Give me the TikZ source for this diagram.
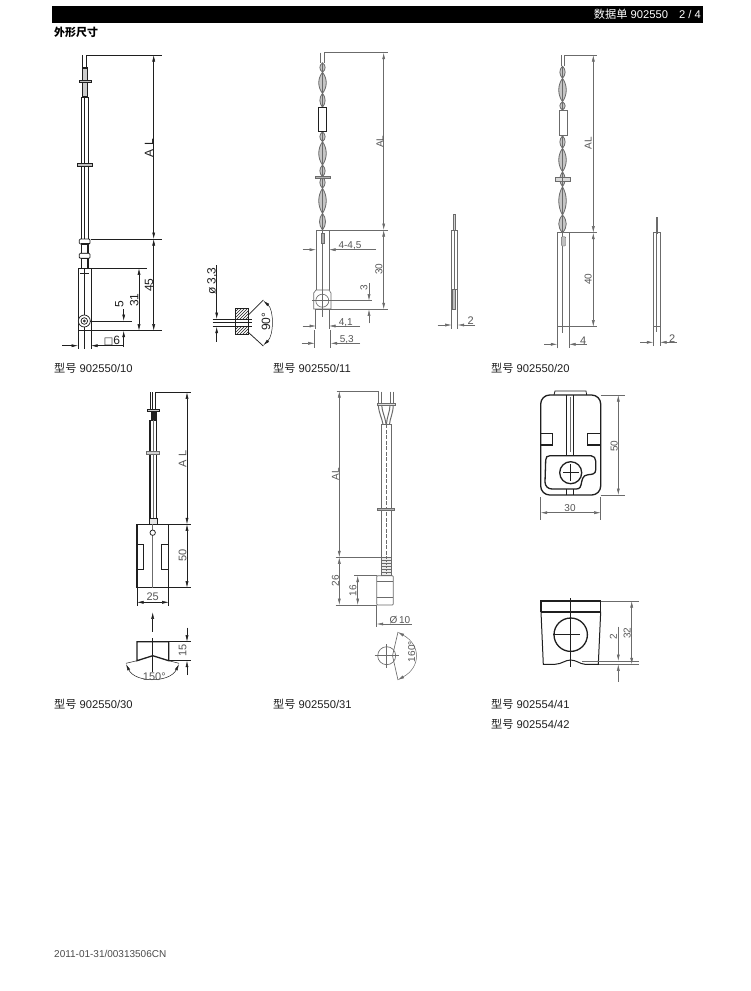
\documentclass[tikz,border=0pt]{standalone}
\usepackage{fontspec}
\setmainfont{Liberation Sans}
\newfontfamily\cjk{Noto Sans CJK SC}
\newfontfamily\dvu{DejaVu Sans}
\usetikzlibrary{arrows.meta,patterns}
\definecolor{ink}{gray}{0.12}
\definecolor{soft}{gray}{0.42}
\tikzset{
 ln/.style={draw=ink,line width=0.75pt},
 thick ln/.style={draw=ink,line width=1.3pt},
 lg/.style={draw=soft,line width=0.65pt},
 dm/.style={draw=ink,line width=0.5pt},
 dg/.style={draw=soft,line width=0.5pt},
 ar/.style={<->},
 ar1/.style={->},
 tw/.style={draw=soft,line width=0.8pt,fill=gray!45},
 dt/.style={font=\fontsize{12}{12}\selectfont,text=ink,inner sep=0pt},
 dts/.style={font=\fontsize{10}{10}\selectfont,text=soft!80!black,inner sep=0pt},
 dtm/.style={font=\fontsize{11}{11}\selectfont,text=soft!80!black,inner sep=0pt},
 lbl/.style={font=\fontsize{11.2}{12}\selectfont,text=ink,anchor=west,inner sep=0pt},
}
\newcommand\twistseg[4]{%
 \draw[tw] (#1,#2) .. controls ({#1-#4},{#2+(#3-#2)*.3}) and ({#1-#4},{#2+(#3-#2)*.7}) .. (#1,#3)
   .. controls ({#1+#4},{#2+(#3-#2)*.7}) and ({#1+#4},{#2+(#3-#2)*.3}) .. (#1,#2);
 \draw[soft,line width=1.1pt] (#1,#2)--(#1,#3);}
\begin{document}
\begin{tikzpicture}[x=1pt,y=-1pt,>={Latex[length=6.5pt,width=3pt]}]
\useasboundingbox (0,0) rectangle (750,991);
\fill[white] (0,0) rectangle (750,991);
% header
\fill[black] (52,6) rectangle (703,23);
\node[anchor=east,text=white,inner sep=0pt,font=\fontsize{11.2}{12}\selectfont] (head) at (701,14.5) {{\cjk 数据单} 902550\hspace{11pt}2 / 4};
\node[anchor=west,inner sep=0pt,font=\fontsize{11}{12}\selectfont\bfseries] (title) at (54,32.5) {\cjk\bfseries 外形尺寸};
\node[lbl] (c1) at (54,368) {{\cjk 型号} 902550/10};
\node[lbl] (c2) at (273,368) {{\cjk 型号} 902550/11};
\node[lbl] (c3) at (491,368) {{\cjk 型号} 902550/20};
\node[lbl] (c4) at (54,704) {{\cjk 型号} 902550/30};
\node[lbl] (c5) at (273,704) {{\cjk 型号} 902550/31};
\node[lbl] (c6) at (491,704) {{\cjk 型号} 902554/41};
\node[lbl] (c7) at (491,724) {{\cjk 型号} 902554/42};
\node[anchor=west,inner sep=0pt,text=soft!70!black,font=\fontsize{10}{12}\selectfont] (foot) at (54,954) {2011-01-31/00313506CN};

%%% Drawing 1
\draw[ln] (82.3,55)--(82.3,68) (86.7,55)--(86.7,68);
\draw[thick ln,fill=gray!40] (82.3,68) rectangle (87.7,97);
\draw[ln,fill=gray!50] (79.3,80) rectangle (91,82.5);
\draw[ln] (81.7,97) rectangle (88.3,240);
\draw[ln] (84.7,97)--(84.7,240);
\draw[ln,fill=gray!50] (77.3,163.5) rectangle (92,166);
\draw[ln,fill=white,rounded corners=1pt] (79.3,239) rectangle (90,244);
\draw[thick ln] (81.7,244) rectangle (88,253.3);
\draw[ln,fill=white,rounded corners=1pt] (79.3,253.3) rectangle (90,258.3);
\draw[thick ln] (81.7,258.3) rectangle (88,268.3);
\draw[ln] (78,268.3) rectangle (91,330.7);
\draw[ln] (80,273)--(89,273);
\draw[ln] (84.7,268)--(84.7,349);
\draw[ln] (78,330.7)--(78,349) (91,330.7)--(91,349);
\draw[ln,fill=white] (84.3,321) circle (6);
\draw[ln] (84.3,321) circle (3.3);
\draw[ln] (84.3,321) circle (1);
\draw[dm] (86.7,55)--(162,55);
\draw[dm] (91,239)--(162,239);
\draw[dm] (91,268.3)--(146.7,268.3);
\draw[dm] (91,330.7)--(162,330.7);
\draw[dm] (90,321)--(132.3,321);
\draw[dm,ar] (153.7,55)--(153.7,239);
\draw[dm,ar] (153.7,239)--(153.7,330.7);
\draw[dm,ar] (139,268.3)--(139,330.7);
\draw[dm,ar1] (123.7,309)--(123.7,321);
\draw[dm,ar1] (123.7,347)--(123.7,330.7);
\draw[dm,ar1] (62.3,345.7)--(78,345.7);
\draw[dm,ar1] (123.7,345.7)--(91,345.7);
\node[dt,rotate=90] (t1a) at (149,148) {A L};
\node[dt,rotate=90] (t1b) at (149,285) {45};
\node[dt,rotate=90] (t1c) at (134.3,300) {31};
\node[dt,rotate=90] (t1d) at (119.3,304) {5};
\node[dt,anchor=center] (t1e) at (112,341) {{\dvu\fontsize{10}{10}\selectfont □}6};
% section
\draw[ln,pattern=north east lines,pattern color=ink] (235.3,308.3) rectangle (248.3,334);
\draw[ln,fill=white] (235.3,319) rectangle (248.3,326.7);
\draw[dm] (212.7,319)--(251.7,319) (212.7,326.7)--(251.7,326.7) (212.7,322.7)--(252,322.7);
\draw[dm] (216.7,265)--(216.7,308);
\draw[dm,ar1] (216.7,308)--(216.7,319);
\draw[dm,ar1] (216.7,341.7)--(216.7,326.7);
\draw[ln] (248.3,315)--(263.3,300) (248.3,332.3)--(263.3,346);
\draw[dm,ar] (263.3,300.7) .. controls (274,310) and (274,335) .. (263.3,345.3);
\node[dt,rotate=90] (t1f) at (212.3,281) {ø 3,3};
\node[dt,rotate=90] (t1g) at (266,321.7) {90°};

%%% Drawing 2
\draw[lg] (320.7,52.7)--(320.7,62.7) (324.3,52.7)--(324.3,62.7);
\twistseg{322.5}{62.7}{72.3}{3.5}\twistseg{322.5}{72.3}{93.3}{5}\twistseg{322.5}{93.3}{107.3}{3.5}
\twistseg{322.5}{131.7}{141.7}{3.5}\twistseg{322.5}{141.7}{165}{5}\twistseg{322.5}{165}{176.7}{3.5}
\twistseg{322.5}{176.7}{188.3}{3.5}\twistseg{322.5}{188.3}{213.3}{5}\twistseg{322.5}{213.3}{230}{4}
\draw[ln,fill=white] (318.3,107.3) rectangle (326.7,131.7);
\draw[draw=soft,fill=gray!60] (315,175.7) rectangle (330,177.7);
\draw[lg] (316,230)--(329,230)--(329,290) (316,230)--(316,290);
\draw[lg,fill=white] (316,290)--(313.7,293)--(313.7,309)--(331,309)--(331,293)--(329,290)--cycle;
\draw[lg] (315,309)--(315,329) (329.5,309)--(329.5,329);
\draw[lg] (322.3,230)--(322.3,317);
\draw[draw=soft,fill=gray!65] (320.7,233.3) rectangle (324,242.7);
\draw[lg] (322.3,300.7) circle (6.5);
\draw[dg] (324.3,52.7)--(388.3,52.7);
\draw[dg] (329,230)--(388.3,230);
\draw[dg] (315,309.3)--(388.3,309.3);
\draw[dg] (312,300.7)--(372.3,300.7);
\draw[dg,ar] (383.7,52.7)--(383.7,230);
\draw[dg,ar] (383.7,230)--(383.7,309.3);
\draw[dg,ar1] (302.7,249.7)--(316,249.7);
\draw[dg,ar1] (376,249.7)--(329,249.7);
\draw[dg] (369,283.3)--(369,290);
\draw[dg,ar1] (369,290)--(369,300.7);
\draw[dg,ar1] (369,323.3)--(369,309.3);
\draw[dg,ar1] (302.7,326)--(316,326);
\draw[dg,ar1] (360,326)--(329,326);
\draw[dg] (314.7,330)--(314.7,348) (330.7,330)--(330.7,348);
\draw[dg,ar1] (301.7,343.3)--(314.7,343.3);
\draw[dg,ar1] (360,343.3)--(330.7,343.3);
\node[dts,rotate=90] (t2a) at (380,141.7) {AL};
\node[dts,rotate=90] (t2b) at (379,269.3) {30};
\node[dts,rotate=90] (t2c) at (364,287.3) {3};
\node[dts] (t2d) at (350,246) {4-4,5};
\node[dts] (t2e) at (345.7,322.7) {4,1};
\node[dts] (t2f) at (346.7,339.3) {5,3};
% side
\draw[lg,fill=gray!35] (453.3,214) rectangle (455.7,230);
\draw[lg] (451.7,230)--(457.7,230) (451.7,230)--(451.7,329.3) (457.7,230)--(457.7,329.3);
\draw[lg] (454.7,230)--(454.7,289);
\draw[lg] (451.7,289.3)--(457.7,289.3);
\draw[draw=soft,fill=gray!50] (452.3,289.3) rectangle (455,309.5);
\draw[dg,ar1] (437.7,325)--(451.7,325);
\draw[dg,ar1] (475,325)--(457.7,325);
\node[dtm] (t2g) at (470.7,321) {2};

%%% Drawing 3
\draw[lg] (561,55)--(561,66) (564,55)--(564,66);
\twistseg{562.5}{66}{78.3}{3.5}\twistseg{562.5}{78.3}{101.7}{5}\twistseg{562.5}{101.7}{110}{3.5}
\twistseg{562.5}{135.7}{148.3}{3.5}\twistseg{562.5}{148.3}{171.7}{5}\twistseg{562.5}{171.7}{186.7}{3.5}
\twistseg{562.5}{186.7}{215}{5}\twistseg{562.5}{215}{232.7}{5}
\draw[lg,fill=white] (559,110) rectangle (567.3,135.7);
\draw[lg,fill=gray!30] (555.7,177.7) rectangle (570.7,181);
\draw[lg] (562.7,175)--(562.7,190);
\draw[lg] (557.3,348.3)--(557.3,232.7)--(569,232.7)--(569,348.3);
\draw[lg] (562.7,232.7)--(562.7,333);
\draw[draw=soft,fill=gray!50,rounded corners=1pt] (561.3,236.7) rectangle (565.7,246);
\draw[dg] (564,55)--(596.7,55);
\draw[dg] (569,232.7)--(596.7,232.7);
\draw[lg] (557.3,326.7)--(569,326.7);
\draw[dg] (569,326.7)--(596.7,326.7);
\draw[dg,ar] (593.3,55)--(593.3,232.7);
\draw[dg,ar] (593.3,232.7)--(593.3,326.7);
\draw[dg,ar1] (544,344.3)--(557.3,344.3);
\draw[dg,ar1] (586.7,344.3)--(569,344.3);
\node[dts,rotate=90] (t3a) at (588.3,143.3) {AL};
\node[dts,rotate=90] (t3b) at (588.3,279.3) {40};
\node[dtm] (t3c) at (583.3,341) {4};
% side
\draw[draw=soft,fill=gray!60,line width=0.3pt] (655.7,216.7) rectangle (657.5,232.7);
\draw[lg] (653.3,346)--(653.3,232.7)--(660,232.7)--(660,346);
\draw[lg] (656.6,232.7)--(656.6,332);
\draw[lg] (653.3,326.7)--(660,326.7);
\draw[dg,ar1] (640,342.3)--(653.3,342.3);
\draw[dg,ar1] (676.7,342.3)--(660,342.3);
\node[dtm] (t3d) at (672.3,338.3) {2};

%%% Drawing 4
\draw[ln] (150.7,392.3)--(150.7,410) (152.7,392.3)--(152.7,410) (155,392.3)--(155,410);
\fill[ink] (150.5,410) rectangle (156.7,420);
\draw[ln,fill=gray!40] (147.7,409) rectangle (159,411);
\draw[ln] (150,420) rectangle (156.7,518.3);
\draw[thick ln] (150,420)--(150,518.3) (156.7,420)--(156.7,518.3);
\draw[lg] (153,420)--(153,518);
\draw[lg,fill=gray!35] (146.7,451.5) rectangle (159.3,454.5);
\draw[ln,fill=gray!20] (149,518.3) rectangle (157.3,524);
\draw[thick ln] (137,524.3) rectangle (168.7,587.7);
\draw[lg] (152.7,524.3)--(152.7,587.7);
\draw[ln,fill=white] (152.7,532.7) circle (2.7);
\draw[ln] (137,544) -| (143.7,569) -- (137,569);
\draw[ln] (168.7,544) -| (161.7,569) -- (168.7,569);
\draw[dm] (155,392.3)--(191,392.3);
\draw[dm] (168.7,524.3)--(191,524.3);
\draw[dm] (168.7,587.7)--(191,587.7);
\draw[dm,ar] (187,392.3)--(187,524.3);
\draw[dm,ar] (187,524.3)--(187,587.7);
\draw[dm] (137,587.7)--(137,605.7) (168.7,587.7)--(168.7,605.7);
\draw[dm,ar] (137,602.3)--(168.7,602.3);
\node[dtm,rotate=90] (t4a) at (182.7,459) {A L};
\node[dtm,rotate=90] (t4b) at (182.7,555.7) {50};
\node[dtm] (t4c) at (152.7,597) {25};
\draw[dm,ar1] (152.7,631.7)--(152.7,612.3);
\draw[thick ln] (137,660.7)--(137,641.7)--(168.7,641.7)--(168.7,660.7)--(152.7,655.7)--cycle;
\draw[dm] (152.7,638)--(152.7,672);
\draw[dm] (137,660.7)--(126,663.3) (168.7,660.7)--(179,663.3);
\draw[dm,ar] (126,664) .. controls (135,683) and (170,683) .. (179,664);
\draw[dm] (168.7,641.7)--(191,641.7) (168.7,660.7)--(191,660.7);
\draw[dm] (187,627.7)--(187,630);
\draw[dm,ar1] (187,630)--(187,641.7);
\draw[dm,ar1] (187,675)--(187,660.7);
\node[dtm,rotate=90] (t4d) at (182.7,650.7) {15};
\node[dtm] (t4e) at (154.3,677) {150°};

%%% Drawing 5
\draw[lg] (378.3,391.7)--(378.3,405) (381.7,391.7)--(381.7,405) (390,391.7)--(390,405) (393.3,391.7)--(393.3,405);
\draw[lg,fill=gray!25] (377,403) rectangle (395,405.5);
\draw[lg,line width=1pt] (378.3,405) .. controls (379,414) and (382,418) .. (383,424.3);
\draw[lg,line width=1pt] (381.7,405) .. controls (382,412) and (385,416) .. (386,424.3);
\draw[lg,line width=1pt] (393.3,405) .. controls (393,414) and (390,418) .. (389.5,424.3);
\draw[lg,line width=1pt] (390,405) .. controls (390,412) and (387,416) .. (386.5,424.3);
\draw[lg] (381.7,424.3) rectangle (391,557.3);
\draw[lg,dashed,dash pattern=on 4pt off 1.5pt] (386.3,424.3)--(386.3,557.3);
\draw[draw=soft,fill=gray!60] (377.3,508) rectangle (394,510.2);
\draw[lg,fill=gray!15] (381,557.3) rectangle (391.7,575.7);
\foreach \yy in {560,563,566,569,572} \draw[soft,line width=1pt] (381,\yy)--(391.7,\yy);
\draw[lg,dashed,dash pattern=on 2pt off 1pt] (386.3,557.3)--(386.3,575.7);
\draw[lg,rounded corners=1pt] (376.7,575.7) rectangle (393.3,605);
\draw[lg] (376.7,581)--(393.3,581) (376.7,597.5)--(393.3,597.5);
\draw[dg] (376.7,605)--(376.7,627.3);
\draw[dg] (336.7,391)--(379,391);
\draw[dg] (335.7,557.3)--(381,557.3);
\draw[dg] (335.7,605)--(376.7,605);
\draw[dg] (354.3,575.7)--(376.7,575.7);
\draw[dg,ar] (339.3,391)--(339.3,557.3);
\draw[dg,ar] (339.3,557.3)--(339.3,605);
\draw[dg,ar] (357.7,575.7)--(357.7,605);
\draw[dg,ar1] (411.7,624)--(376.7,624);
\node[dts,rotate=90] (t5a) at (335.5,474.3) {AL};
\node[dts,rotate=90] (t5b) at (335.5,580.7) {26};
\node[dts,rotate=90] (t5c) at (353,590.7) {16};
\node[dts] (t5d) at (400,620) {Ø\,10};
\draw[lg] (386.7,655.7) circle (9);
\draw[dg] (374.7,655.7)--(398.7,655.7) (386.7,644)--(386.7,668);
\draw[lg] (392.5,655.7)--(398,632) (392.5,655.7)--(398,680);
\draw[dg,ar] (397.7,632) .. controls (421,645) and (421,667) .. (397.7,680);
\node[dts,rotate=90] (t5e) at (411.7,651.7) {160°};

%%% Drawing 6
\draw[ln] (554,395)--(555,391)--(586,391)--(586.7,395);
\draw[thick ln,rounded corners=9pt] (540.7,495)--(540.7,395)--(600.7,395)--(600.7,495)--cycle;
\draw[ln] (566.7,395)--(566.7,455.7) (573.7,395)--(573.7,455.7);
\draw[lg] (570,397)--(570,452);
\draw[thick ln] (540.7,433.3)--(552.7,433.3)--(552.7,445)--(540.7,445);
\draw[thick ln] (600.7,433.3)--(587.3,433.3)--(587.3,445)--(600.7,445);
\draw[thick ln] (550,455.7)--(591,455.7) .. controls (594,456) and (595.7,458) .. (595.7,461)--(595.7,470)
  .. controls (595.7,474) and (592,474.5) .. (588,474.7) .. controls (582,475) and (582,481) .. (581,485) .. controls (580,489) and (578,489) .. (574,489)
  --(552,489) .. controls (548,489) and (545,486) .. (545,482)--(545.7,460) .. controls (546,457) and (547,455.7) .. (550,455.7);
\draw[ln] (566.7,489)--(566.7,495) (573.3,489)--(573.3,495);
\draw[thick ln,fill=white] (570.7,472.7) circle (11);
\draw[dm] (563,472.7)--(578.5,472.7) (570.7,464)--(570.7,481);
\draw[dg] (600.7,395)--(625,395) (600.7,495)--(625,495);
\draw[dg,ar] (618.3,395)--(618.3,495);
\draw[dg] (540.7,497)--(540.7,520) (600.7,497)--(600.7,520);
\draw[dg,ar] (540.7,512.7)--(600.7,512.7);
\node[dts,rotate=90] (t6a) at (614.3,446) {50};
\node[dts] (t6b) at (570,508.3) {30};
% bottom
\draw[thick ln] (541,611.7)--(541,601)--(600.7,601)--(600.7,611.7);
\draw[line width=1.7pt,ink] (541,611.7)--(600.7,611.7);
\draw[ln,line width=1pt] (541,611.7)--(543.3,664.3)--(555,664.3) .. controls (562,664) and (565,660) .. (570.7,660) .. controls (576,660) and (580,664) .. (585,664.3)--(598.3,664.3)--(600.7,611.7);
\draw[dm] (570.7,598)--(570.7,667);
\draw[thick ln] (570.7,634.7) circle (16.7);
\draw[dm] (553,634.7)--(580,634.7);
\draw[dg] (600.7,601)--(639.3,601) (599,664.3)--(639.3,664.3) (582,661)--(639.3,661);
\draw[dg,ar] (631.7,601)--(631.7,664.3);
\draw[dg] (618.3,626.7)--(618.3,650);
\draw[dg,ar1] (618.3,650)--(618.3,661);
\draw[dg,ar1] (618.3,681.7)--(618.3,664.3);
\node[dts,rotate=90] (t6c) at (627.3,633.3) {32};
\node[dts,rotate=90] (t6d) at (613.3,636.7) {2};
\end{tikzpicture}
\end{document}
